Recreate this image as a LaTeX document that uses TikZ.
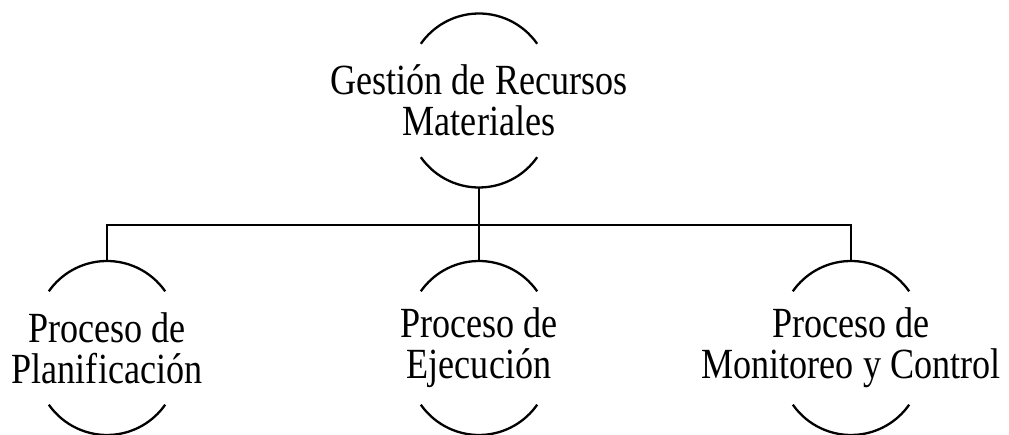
\documentclass[tikz,border=0pt]{standalone}
\usepackage{fontspec}
\setmainfont[FakeStretch=0.84]{Liberation Serif}
\usepackage{tikz}
\usetikzlibrary{calc}
\def\ovalarcs(#1){\draw[line width=2.3pt] ($(#1)+(0,16)+({71*cos(35)},{71*sin(35)})$) arc (35:145:71pt);
	\draw[line width=2.3pt] ($(#1)+(0,-16)+({71*cos(215)},{71*sin(215)})$) arc (215:325:71pt);}

\begin{document}
\begin{tikzpicture}[x=1pt, y=1pt,
	proc/.style={inner sep=0pt, minimum height=174pt, align=center, font=\fontsize{43}{41}\selectfont}]
			%%%%% START %%%%%
			
			\useasboundingbox (0, 0) rectangle (1009, 435);
			
			\node[proc] (gestion) at (479, 334.5) {Gestión de Recursos\\Materiales};
			\node[proc] (planif) at (107, 87) {Proceso de\\Planificación};
			\node[proc] (ejec) at (479, 87) {Proceso de\\Ejecución};
			\node[proc] (monit) at (851, 87) {Proceso de\\Monitoreo y Control};
			
			\ovalarcs(gestion)
			\ovalarcs(planif)
			\ovalarcs(ejec)
			\ovalarcs(monit)
			
			\draw[line width=2.3pt] (gestion.south) -- ++(0, -37) coordinate (bus);
			\draw[line width=2.3pt] (bus) -| (planif.north);
			\draw[line width=2.3pt] (bus) -| (monit.north);
			\draw[line width=2.3pt] (bus) -- (ejec.north);
			
			%%%%% END %%%%%
		\end{tikzpicture}
\end{document}
